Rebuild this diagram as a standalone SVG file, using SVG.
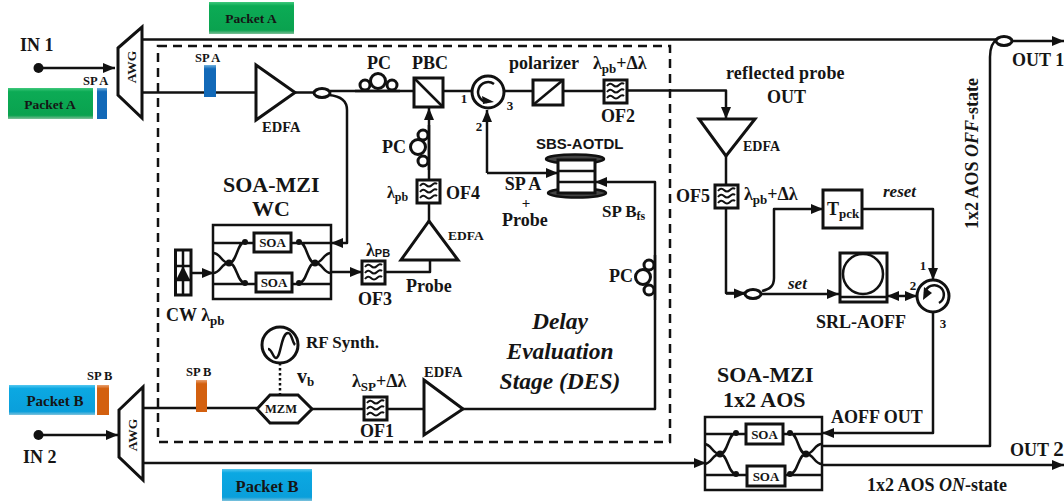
<svg xmlns="http://www.w3.org/2000/svg" xmlns:xlink="http://www.w3.org/1999/xlink" width="1064" height="502" viewBox="0 0 1064 502">
<style>
text{font-family:"Liberation Serif","Times New Roman",serif;font-weight:bold;fill:#151515;font-size:18px}
.s{font-size:13.5px}
.xs{font-size:12.5px}
.n{font-size:13px}
.t{font-size:22px}
.m{text-anchor:middle}
.i{font-style:italic}
.sans{font-family:"Liberation Sans",Arial,sans-serif}
.w{fill:none;stroke:#111;stroke-width:2.5;stroke-linejoin:round}
.a{marker-end:url(#ah)}
.b{fill:#fff;stroke:#111;stroke-width:2.5}
.o{fill:none;stroke:#111;stroke-width:2.5}
.h{fill:#fff;stroke:#111;stroke-width:3}
.d{fill:#111}
.des{font-size:23.5px;font-style:italic;text-anchor:middle}
</style>
<defs>
<marker id="ah" markerUnits="userSpaceOnUse" markerWidth="13" markerHeight="12" refX="12" refY="6" orient="auto"><path d="M0,1 L12,6 L0,11 Z" fill="#111"/></marker>
<marker id="ahs" markerUnits="userSpaceOnUse" markerWidth="13" markerHeight="12" refX="0" refY="6" orient="auto"><path d="M12,1 L0,6 L12,11 Z" fill="#111"/></marker>
<linearGradient id="gg" x1="0" y1="0" x2="0" y2="1"><stop offset="0" stop-color="#3fc97c"/><stop offset=".12" stop-color="#0cab55"/><stop offset=".88" stop-color="#0aa24f"/><stop offset="1" stop-color="#7fbf98"/></linearGradient>
<linearGradient id="gb" x1="0" y1="0" x2="0" y2="1"><stop offset="0" stop-color="#55c8f0"/><stop offset=".12" stop-color="#0ba8e2"/><stop offset=".88" stop-color="#0a9fdb"/><stop offset="1" stop-color="#7fc2dc"/></linearGradient>
<linearGradient id="gu" x1="0" y1="0" x2="0" y2="1"><stop offset="0" stop-color="#6fb0dc"/><stop offset=".12" stop-color="#1269b8"/><stop offset="1" stop-color="#1269b8"/></linearGradient>
<linearGradient id="gr" x1="0" y1="0" x2="0" y2="1"><stop offset="0" stop-color="#e8a070"/><stop offset=".12" stop-color="#d3600f"/><stop offset="1" stop-color="#d3600f"/></linearGradient>
<g id="of"><rect class="h" x="0" y="0" width="23" height="23"/><path d="M3,6 q3,-4 6,-1 t6,0 t5,-1 M3,12 q3,-4 6,-1 t6,0 t5,-1 M3,18 q3,-4 6,-1 t6,0 t5,-1" fill="none" stroke="#111" stroke-width="2"/></g>
<g id="mzi">
<path class="o" d="M0,18 H118 M0,59 H118 M0,28 C8,28 8,38 16,38 C24,38 24,17 32,17 M0,48 C8,48 8,38 16,38 C24,38 24,58 32,58 M118,28 C110,28 110,38 102,38 C94,38 94,17 86,17 M118,48 C110,48 110,38 102,38 C94,38 94,58 86,58"/>
<circle class="d" cx="16" cy="38" r="3.5"/><circle class="d" cx="102" cy="38" r="3.5"/><circle class="d" cx="32" cy="17" r="3"/><circle class="d" cx="86" cy="17" r="3"/><circle class="d" cx="32" cy="58" r="3"/><circle class="d" cx="86" cy="58" r="3"/>
</g>
</defs>

<g id="connectors">
<path class="w a" d="M38,68 H115"/>
<path class="w a" d="M38,435 H118"/>
<path class="w a" d="M142,39.5 H997 M1012,41 H1064"/>
<path class="w" d="M142,92.5 H256"/>
<path class="w" d="M295,92.5 H314 M330,91 H414"/>
<path class="w a" d="M329,95 C340,96 347,100 347,110 V243 H331"/>
<path class="w" d="M443,91 H472 M504,91 H533 M563,91 H604"/>
<path class="w a" d="M627,90.5 H726 V119"/>
<path class="w a" d="M487,173 V110"/>
<path class="w a" d="M487,173 H558"/>
<path class="w a" d="M463,409 H655 V182 H595"/>
<path class="w" d="M142,408 H257 M312,409 H364 M388,409 H424"/>
<path class="w" stroke-dasharray="2.5 2.5" d="M280,363 V395"/>
<path class="w a" d="M191,273 H214"/>
<path class="w a" d="M331,272 H362"/>
<path class="w" d="M386,272 H430 V260"/>
<path class="w a" d="M429,221 V108"/>
<path class="w" d="M726,156 V293 H745"/>
<path class="w a" d="M726,293.5 H746"/>
<path class="w a" d="M761,294 H839"/>
<path class="w a" d="M762,291 C770,289 774,286 774,278 V209 H823"/>
<path class="w a" d="M862,209 H933 V280"/>
<path class="w" style="marker-start:url(#ahs);marker-end:url(#ah)" d="M887,296 H917"/>
<path class="w a" d="M933,312 V433 H822"/>
<path class="w a" d="M142,463 H706"/>
<path class="w" d="M821,446 H990 V57 C990,48 992,42 998,38"/>
<path class="w a" d="M821,465 H1064"/>
</g>

<g id="delay-stage"><rect x="158" y="46" width="512" height="396" fill="none" stroke="#111" stroke-width="2.5" stroke-dasharray="9 6"/></g>

<g id="in1"><circle class="d" cx="38.5" cy="68" r="5"/><text x="20" y="51">IN 1</text></g>
<g id="in2"><circle class="d" cx="38.5" cy="435" r="5"/><text x="23" y="463">IN 2</text></g>

<g id="awg1"><path class="h" d="M118,48 L142,27 V118 L118,95 Z"/><text class="s" transform="translate(136,67) rotate(-90)" text-anchor="middle">AWG</text></g>
<g id="awg2"><path class="h" d="M119,410 L143,387 V480 L119,457 Z"/><text class="s" transform="translate(137,435) rotate(-90)" text-anchor="middle">AWG</text></g>

<g id="packet-a-top"><rect x="209" y="2" width="85" height="32" fill="url(#gg)"/><text class="s m" x="251" y="23">Packet A</text></g>
<g id="packet-a-left"><rect x="8" y="88" width="85" height="31" fill="url(#gg)"/><text class="s m" x="50" y="109">Packet A</text></g>
<g id="spa-left"><rect x="97" y="88" width="10" height="31" fill="url(#gu)"/><text class="xs" x="83" y="85">SP A</text></g>
<g id="spa-line"><rect x="204" y="65" width="12" height="32" fill="url(#gu)"/><text class="xs" x="195" y="62">SP A</text></g>
<g id="packet-b-left"><rect x="9" y="385" width="86" height="30" fill="url(#gb)"/><text class="m" style="font-size:15px" x="55" y="406">Packet B</text></g>
<g id="spb-left"><rect x="97" y="385" width="12" height="30" fill="url(#gr)"/><text class="xs" x="87" y="380">SP B</text></g>
<g id="spb-line"><rect x="196" y="380" width="11" height="32" fill="url(#gr)"/><text class="xs" x="186" y="376">SP B</text></g>
<g id="packet-b-bottom"><rect x="222" y="469" width="90" height="32" fill="url(#gb)"/><text class="m" style="font-size:16.5px" x="267" y="492">Packet B</text></g>

<g id="edfa1"><path class="h" d="M256,65 L295,92.5 L256,120 Z"/><text class="s" style="font-size:14.5px" x="262" y="132">EDFA</text></g>
<g id="coupler1"><ellipse class="h" cx="322" cy="93" rx="8" ry="4.5"/></g>
<g id="pc1"><circle class="h" cx="365" cy="85" r="5"/><circle class="h" cx="392" cy="85" r="5"/><circle class="h" cx="378" cy="81" r="7.5"/><path class="w" d="M355,91 H400"/><text class="m" x="379" y="69">PC</text></g>
<g id="pbc"><rect class="h" x="414" y="78" width="29" height="29"/><path class="o" d="M414,78 L443,107"/><text x="412" y="69">PBC</text></g>
<g id="circ1"><circle class="h" cx="488" cy="92" r="16"/><path class="o" d="M494,84 A10,10 0 1 0 487,102"/><path class="d" d="M482,96 L494,102 L483,104 Z"/><text class="n m" x="464" y="103">1</text><text class="n m" x="510" y="110">3</text><text class="n m" x="479" y="131">2</text></g>
<g id="polarizer"><rect class="h" x="533" y="80" width="30" height="25"/><path class="o" d="M533,105 L563,80"/><text x="509" y="69">polarizer</text></g>
<g id="of2"><use href="#of" x="604" y="80"/><text x="593" y="69">λ<tspan dy="4" font-size="13">pb</tspan><tspan dy="-4">+Δλ</tspan></text><text x="601" y="122">OF2</text></g>
<g id="edfa3"><path class="h" d="M699,119 L755,119 L726,156 Z"/><text class="s" style="font-size:14px" x="743" y="151">EDFA</text></g>
<g id="labels-out"><text x="726" y="79" letter-spacing=".2">reflected probe</text><text x="767" y="103">OUT</text></g>
<g id="of5"><use href="#of" x="715" y="185"/><text x="676" y="202">OF5</text><text x="744" y="200">λ<tspan dy="4" font-size="13">pb</tspan><tspan dy="-4">+Δλ</tspan></text></g>
<g id="tpck"><rect class="h" x="823" y="190" width="39" height="38"/><text x="827" y="215">T<tspan dy="3" font-size="13">pck</tspan></text></g>
<text class="i" style="font-size:17px" x="883" y="197">reset</text>
<g id="coupler3"><ellipse class="h" cx="753" cy="294" rx="8" ry="4.5"/></g>
<text class="i" style="font-size:17px" x="788" y="289">set</text>
<g id="srl"><rect class="h" x="840" y="253" width="47" height="49"/><path class="o" d="M840,297 H887"/><circle class="b" cx="863" cy="274" r="20"/><text x="816" y="328">SRL-AOFF</text></g>
<g id="circ2"><circle class="h" cx="933" cy="296" r="16"/><path class="o" d="M925,293 A9.5,9.5 0 1 1 939,303"/><path class="d" d="M923,300 L924,287 L932,293 Z"/><text class="n m" x="923" y="270">1</text><text class="n m" x="913" y="290">2</text><text class="n m" x="943" y="328">3</text></g>
<g id="coupler-out1"><ellipse class="h" cx="1004" cy="41" rx="8" ry="4.5"/></g>
<text x="1012" y="66">OUT 1</text>
<text transform="translate(978,229) rotate(-90)">1x2 AOS <tspan class="i">OFF</tspan>-state</text>

<g id="soa-mzi-wc"><rect class="b" x="213" y="225" width="118" height="74"/><use href="#mzi" x="213" y="225"/><rect class="h" x="254" y="233" width="37" height="19"/><text class="n m" x="272.5" y="247">SOA</text><rect class="h" x="256" y="273" width="36" height="19"/><text class="n m" x="274" y="287">SOA</text><text class="t" x="223" y="192">SOA-MZI</text><text class="t" x="252" y="216">WC</text></g>

<g id="soa-mzi-aos"><rect class="b" x="705" y="417" width="117" height="73"/><use href="#mzi" x="704" y="416"/><rect class="h" x="746" y="424" width="37" height="20"/><text class="n m" x="764.5" y="439">SOA</text><rect class="h" x="747" y="466" width="38" height="20"/><text class="n m" x="766" y="481">SOA</text><text class="t" x="717" y="382">SOA-MZI</text><text class="t" x="723" y="407">1x2 AOS</text></g>
<text x="831" y="423">AOFF OUT</text>
<text x="1010" y="456">OUT <tspan font-size="21">2</tspan></text>
<text x="867" y="491">1x2 AOS <tspan class="i">ON</tspan>-state</text>

<g id="cw"><rect class="h" x="175.5" y="250" width="15.5" height="45"/><path class="o" d="M183,250 V295 M175,266 H191 M175,280 H191"/><path class="d" d="M183,266 L190,280 H176 Z"/><text x="166" y="321">CW λ<tspan dy="4" font-size="13">pb</tspan></text></g>
<g id="of3"><use href="#of" x="362" y="261"/><text x="358" y="305">OF3</text><text x="366" y="256">λ<tspan dy="1" font-size="11" class="sans">PB</tspan></text></g>
<text x="406" y="292">Probe</text>
<g id="edfa2"><path class="h" d="M401,260 L458,260 L429,221 Z"/><text class="s" x="448" y="240">EDFA</text></g>
<g id="of4"><use href="#of" x="417" y="180"/><text x="446" y="199">OF4</text><text x="387" y="198" style="font-size:16px">λ<tspan dy="3" font-size="12">pb</tspan></text></g>
<g id="pc2"><circle class="h" cx="423" cy="135" r="5"/><circle class="h" cx="423" cy="161" r="5"/><circle class="h" cx="418" cy="147" r="7.5"/><path class="w" d="M429,125 V170"/><text x="382" y="153">PC</text></g>

<g id="sbs"><ellipse class="b" cx="575" cy="159" rx="29" ry="4.5" style="fill:#444"/><ellipse class="b" cx="577" cy="193" rx="29" ry="4.5" style="fill:#444"/><rect class="h" x="558" y="160" width="37" height="33"/><path class="o" d="M558,171 H595 M558,182 H595"/><text class="sans" style="font-size:15px" x="536" y="149">SBS-AOTDL</text></g>
<g id="sbs-labels"><text class="m" x="523" y="190">SP A</text><text class="m" style="font-size:15px" x="526" y="208">+</text><text x="502" y="226">Probe</text><text style="font-size:17px" x="602" y="217">SP B<tspan dy="3" font-size="12">fs</tspan></text></g>
<g id="pc3"><circle class="h" cx="649" cy="265" r="5"/><circle class="h" cx="649" cy="290" r="5"/><circle class="h" cx="643" cy="277" r="7.5"/><path class="w" d="M655,255 V300"/><text x="609" y="282">PC</text></g>

<g id="rf"><circle class="h" cx="280" cy="345" r="18"/><path class="o" d="M268,349 C272,349 273,358 276,358 C281,358 281,333 288,333 C292,333 292,342 295,345"/><text style="font-size:17px" x="306" y="348">RF Synth.</text><text style="font-size:20px" x="297" y="383">v<tspan dy="3" font-size="13">b</tspan></text></g>
<g id="mzm"><path class="h" d="M257,409 L270,395 H298 L312,409 L298,423 H270 Z"/><text class="xs m" x="281" y="413">MZM</text></g>
<g id="of1"><use href="#of" x="364" y="397"/><text x="360" y="437">OF1</text><text x="352" y="387">λ<tspan dy="4" font-size="13">SP</tspan><tspan dy="-4">+Δλ</tspan></text></g>
<g id="edfa4"><path class="h" d="M424,380 L463,409 L424,435 Z"/><text class="s" style="font-size:14.5px" x="424" y="377">EDFA</text></g>
<g id="des-label"><text class="des" x="560" y="329">Delay</text><text class="des" x="560" y="359">Evaluation</text><text class="des" x="560" y="389">Stage (DES)</text></g>
</svg>
